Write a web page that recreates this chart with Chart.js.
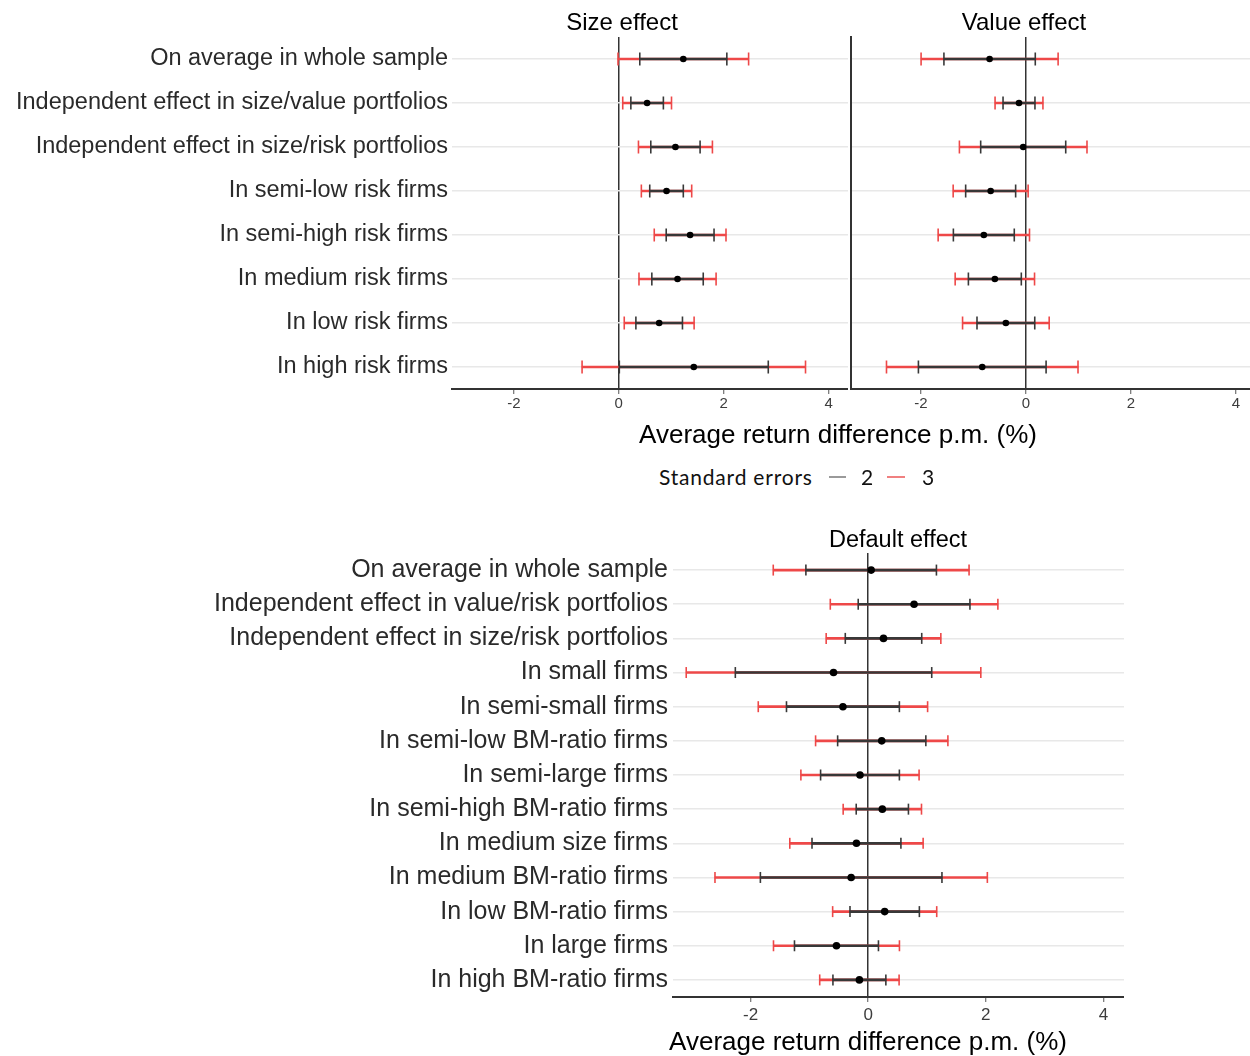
<!DOCTYPE html>
<html>
<head>
<meta charset="utf-8">
<script src="https://cdn.jsdelivr.net/npm/chart.js@4/dist/chart.umd.min.js"></script>
<style>
  body { margin: 0; background: #fff; }
  #page { position: relative; width: 1250px; height: 1056px; overflow: hidden; font-family: "Liberation Sans", Arial, sans-serif; }
  canvas { position: absolute; }
  .txt { position: absolute; white-space: nowrap; text-align: center; color: #000; line-height: 1.15; }
  .leg { position: absolute; font-family: Lato, "Open Sans", sans-serif; font-size: 21px; letter-spacing: 0.8px; line-height: 26px; color: #111; }
  .dash { position: absolute; height: 2px; }
</style>
</head>
<body>
<div id="page">
  <canvas id="chartSize" width="848" height="420" style="left:0;top:0"></canvas>
  <canvas id="chartValue" width="401" height="420" style="left:849px;top:0"></canvas>
  <canvas id="chartDefault" width="1124" height="556" style="left:0;top:500px"></canvas>

  <div class="txt" style="left:522px;top:8px;width:200px;font-size:24px">Size effect</div>
  <div class="txt" style="left:924px;top:8px;width:200px;font-size:24px">Value effect</div>
  <div class="txt" style="left:538px;top:420px;width:600px;font-size:26px">Average return difference p.m. (%)</div>

  <div class="leg" style="left:659px;top:464px">Standard errors</div>
  <div class="dash" style="left:829px;top:476px;width:17px;background:#9a9a9a"></div>
  <div class="leg" style="left:861px;top:464px">2</div>
  <div class="dash" style="left:887px;top:476px;width:18px;background:#f08080"></div>
  <div class="leg" style="left:922px;top:464px">3</div>

  <div class="txt" style="left:798px;top:526px;width:200px;font-size:23.5px">Default effect</div>
  <div class="txt" style="left:568px;top:1027px;width:600px;font-size:26px">Average return difference p.m. (%)</div>
</div>
<script>
var topLabels = ["On average in whole sample", "Independent effect in size/value portfolios",
  "Independent effect in size/risk portfolios", "In semi-low risk firms", "In semi-high risk firms",
  "In medium risk firms", "In low risk firms", "In high risk firms"];
var bottomLabels = ["On average in whole sample", "Independent effect in value/risk portfolios",
  "Independent effect in size/risk portfolios", "In small firms", "In semi-small firms",
  "In semi-low BM-ratio firms", "In semi-large firms", "In semi-high BM-ratio firms",
  "In medium size firms", "In medium BM-ratio firms", "In low BM-ratio firms",
  "In large firms", "In high BM-ratio firms"];

// mean return difference and its standard error
var sizeMean = [1.23, 0.54, 1.08, 0.91, 1.36, 1.12, 0.77, 1.43];
var sizeSE = [0.415, 0.155, 0.235, 0.16, 0.228, 0.245, 0.222, 0.71];
var valueMean = [-0.69, -0.13, -0.05, -0.67, -0.80, -0.59, -0.38, -0.83];
var valueSE = [0.435, 0.152, 0.405, 0.238, 0.29, 0.252, 0.275, 0.608];
var defaultMean = [0.05, 0.78, 0.26, -0.59, -0.43, 0.23, -0.14, 0.24, -0.20, -0.29, 0.28, -0.54, -0.15];
var defaultSE = [0.555, 0.475, 0.325, 0.835, 0.48, 0.375, 0.335, 0.222, 0.378, 0.772, 0.295, 0.357, 0.225];

var xTicks = [-2, 0, 2, 4];
var seLevels = [2, 3];

var FONT = "'Liberation Sans', Arial, sans-serif";
var DARK = '#383838';
var RED = '#ee4848';

function makePanel(id, labels, mean, se, o) {
  function ends(k) {
    var pts = [];
    labels.forEach(function (l, i) {
      pts.push({ x: mean[i] - k * se[i], y: l });
      pts.push({ x: mean[i] + k * se[i], y: l });
    });
    return pts;
  }
  function span(k) {
    return mean.map(function (m, i) { return [m - k * se[i], m + k * se[i]]; });
  }
  function capSet(k, color) {
    return { type: 'scatter', data: ends(k), pointStyle: 'line', pointRotation: 90,
      pointRadius: o.cap, pointBorderColor: color, pointBorderWidth: 1.6, pointBackgroundColor: color };
  }
  function barSet(k, color) {
    return { type: 'bar', data: span(k), backgroundColor: color, borderWidth: 0,
      barThickness: o.bar, grouped: false };
  }

  return new Chart(document.getElementById(id), {
    type: 'bar',
    data: {
      labels: labels,
      datasets: [
        { type: 'scatter', data: mean.map(function (m, i) { return { x: m, y: labels[i] }; }),
          pointRadius: o.dot, pointBackgroundColor: '#000', pointBorderWidth: 0 },
        capSet(seLevels[0], DARK),
        barSet(seLevels[0], DARK),
        capSet(seLevels[1], RED),
        barSet(seLevels[1], RED)
      ]
    },
    options: {
      indexAxis: 'y',
      responsive: false,
      animation: false,
      events: [],
      layout: { autoPadding: false, padding: { top: o.top, left: 0, right: 0, bottom: 0 } },
      plugins: { legend: { display: false }, tooltip: { enabled: false } },
      scales: {
        x: {
          type: 'linear', min: o.min, max: o.max,
          afterBuildTicks: function (s) { s.ticks = xTicks.map(function (v) { return { value: v }; }); },
          afterFit: function (s) { s.height = o.axisH; s.paddingLeft = 0; s.paddingRight = 0; },
          border: { display: true, color: '#333', width: 2 },
          grid: {
            color: function (c) { return c.tick && c.tick.value === 0 ? '#333' : 'rgba(0,0,0,0)'; },
            lineWidth: 1.5, drawTicks: true, tickLength: 5, tickColor: '#555', tickWidth: 1
          },
          ticks: { font: { family: FONT, size: o.tickSize }, color: '#3d3d3d', padding: o.tickPad, maxRotation: 0 }
        },
        y: {
          type: 'category', offset: true,
          afterFit: function (s) { s.width = o.yW; },
          border: { display: o.yBorder, color: '#333', width: 2 },
          grid: { offset: false, color: '#e8e8e8', lineWidth: 1.5, drawTicks: false },
          ticks: { display: o.showLabels, font: { family: FONT, size: o.labelSize }, color: '#2a2a2a', padding: o.labelPad }
        }
      }
    }
  });
}

makePanel('chartSize', topLabels, sizeMean, sizeSE, {
  top: 37, axisH: 31, yW: 452, min: -3.18, max: 4.37, yBorder: false, showLabels: true,
  labelSize: 23.5, labelPad: 4, tickSize: 15, tickPad: 1, cap: 6.5, dot: 3.3, bar: 1.8
});
makePanel('chartValue', topLabels, valueMean, valueSE, {
  top: 37, axisH: 31, yW: 2, min: -3.33, max: 4.27, yBorder: true, showLabels: false,
  labelSize: 23.5, labelPad: 4, tickSize: 15, tickPad: 1, cap: 6.5, dot: 3.3, bar: 1.8
});
makePanel('chartDefault', bottomLabels, defaultMean, defaultSE, {
  top: 53, axisH: 59, yW: 673, min: -3.32, max: 4.35, yBorder: false, showLabels: true,
  labelSize: 25, labelPad: 5, tickSize: 17, tickPad: 3, cap: 5.5, dot: 3.8, bar: 2
});
</script>
</body>
</html>
